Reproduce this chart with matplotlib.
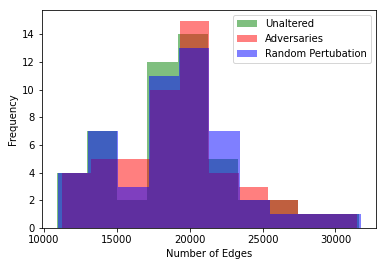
import numpy as np
import matplotlib
matplotlib.use("Agg")
import matplotlib.pyplot as plt

# Histogram data (10 bins per series)
unaltered_range = (10889, 31604)
unaltered_counts = [4, 7, 2, 12, 14, 5, 2, 2, 1, 1]

adversaries_range = (11231, 31467)
adversaries_counts = [4, 5, 5, 10, 15, 4, 3, 2, 1, 1]

random_range = (10957, 31741)
random_counts = [4, 7, 3, 11, 13, 7, 2, 1, 1, 1]

labels = ["Unaltered", "Adversaries", "Random Pertubation"]
colors = ["g", "r", "b"]

fig = plt.figure(figsize=(386 / 72, 266 / 72), dpi=72)
ax = fig.add_axes([41.7 / 386, 1 - 228 / 266, (376 - 41.7) / 386, (228 - 10.3) / 266])

for rng, counts, lab, col in zip(
    [unaltered_range, adversaries_range, random_range],
    [unaltered_counts, adversaries_counts, random_counts],
    labels, colors):
    edges = np.linspace(rng[0], rng[1], len(counts) + 1)
    ax.hist(edges[:-1], bins=edges, weights=counts, color=col, alpha=0.5, label=lab)

ax.set_xlabel("Number of Edges")
ax.set_ylabel("Frequency")
ax.set_yticks(range(0, 15, 2))
ax.set_xticks([10000, 15000, 20000, 25000, 30000])
ax.legend(loc="upper right")

fig.savefig("out.png", dpi=72)
